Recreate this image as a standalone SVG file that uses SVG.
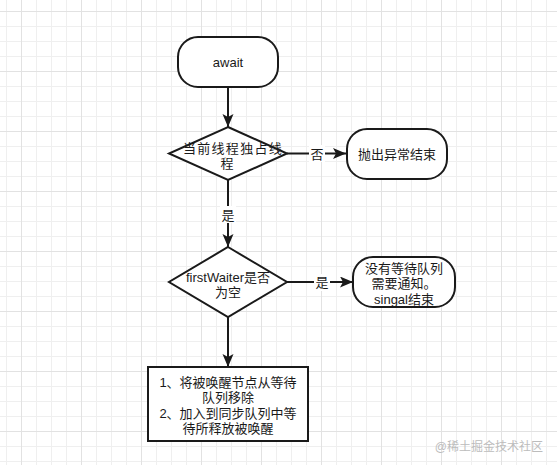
<svg xmlns="http://www.w3.org/2000/svg" width="557" height="465" viewBox="0 0 557 465">
<defs>
<pattern id="grid" patternUnits="userSpaceOnUse" x="21" y="11" width="60" height="60">
<rect x="15" y="0" width="1" height="60" fill="#efefef"/>
<rect x="30" y="0" width="1" height="60" fill="#efefef"/>
<rect x="45" y="0" width="1" height="60" fill="#efefef"/>
<rect x="0" y="15" width="60" height="1" fill="#efefef"/>
<rect x="0" y="30" width="60" height="1" fill="#efefef"/>
<rect x="0" y="45" width="60" height="1" fill="#efefef"/>
<rect x="0" y="0" width="1" height="60" fill="#e2e2e2"/>
<rect x="0" y="0" width="60" height="1" fill="#e2e2e2"/>
</pattern>
<marker id="arrow" markerUnits="userSpaceOnUse" markerWidth="14" markerHeight="12" refX="13" refY="5.5" orient="auto">
<path d="M0,0 L13,5.5 L0,11 L3,5.5 Z" fill="#1a1a1a"/>
</marker>
</defs>
<style>
.shape{fill:#ffffff;stroke:#1a1a1a;stroke-width:2}
.edge{fill:none;stroke:#1a1a1a;stroke-width:2}
.t{font-family:"Liberation Sans","Noto Sans CJK SC",sans-serif;font-size:13px;fill:#1a1a1a;text-anchor:middle}
.wide{letter-spacing:1.3px}
.lbl{fill:#ffffff}
.wm{font-family:"Liberation Sans","Noto Sans CJK SC",sans-serif;font-size:12px;fill:#bcbcbc;text-anchor:end}
</style>
<rect x="0" y="0" width="557" height="465" fill="#ffffff"/>
<rect x="0" y="0" width="557" height="465" fill="url(#grid)"/>

<g id="connectors">
<line class="edge" x1="228" y1="87" x2="228" y2="127" marker-end="url(#arrow)"/>
<line class="edge" x1="287" y1="153.5" x2="346" y2="153.5" marker-end="url(#arrow)"/>
<rect class="lbl" x="309" y="145" width="16" height="17"/>
<text class="t" x="317" y="158.5">否</text>
<line class="edge" x1="228" y1="180" x2="228" y2="247" marker-end="url(#arrow)"/>
<rect class="lbl" x="220" y="206" width="16" height="17"/>
<text class="t" x="228" y="220">是</text>
<line class="edge" x1="287" y1="282" x2="353" y2="282" marker-end="url(#arrow)"/>
<rect class="lbl" x="314" y="274" width="16" height="17"/>
<text class="t" x="322" y="287">是</text>
<line class="edge" x1="228" y1="317" x2="228" y2="367" marker-end="url(#arrow)"/>
</g>

<g id="node-await">
<rect class="shape" x="178" y="37" width="100" height="50" rx="20" ry="20"/>
<text class="t" x="228" y="66.5">await</text>
</g>

<g id="node-check-thread">
<polygon class="shape" points="228,127 287,153.5 228,180 169,153.5"/>
<text class="t wide" x="233" y="152.5">当前线程独占线</text>
<text class="t" x="227" y="168">程</text>
</g>

<g id="node-throw">
<rect class="shape" x="347" y="129" width="100" height="50" rx="20" ry="20"/>
<text class="t" x="397" y="158.5">抛出异常结束</text>
</g>

<g id="node-check-waiter">
<polygon class="shape" points="228,247 287,282 228,317 169,282"/>
<text class="t" x="228" y="281.5">firstWaiter是否</text>
<text class="t" x="228" y="297">为空</text>
</g>

<g id="node-no-wait">
<rect class="shape" x="353" y="257" width="102" height="50" rx="20" ry="20"/>
<text class="t" x="404" y="272.5">没有等待队列</text>
<text class="t" x="404" y="288">需要通知。</text>
<text class="t" x="404" y="303.5">singal结束</text>
</g>

<g id="node-move">
<rect class="shape" x="148" y="367" width="160" height="74"/>
<text class="t" x="228" y="386.5">1、将被唤醒节点从等待</text>
<text class="t" x="228" y="402">队列移除</text>
<text class="t" x="228" y="417.5">2、加入到同步队列中等</text>
<text class="t" x="228" y="433">待所释放被唤醒</text>
</g>

<text class="wm" x="543" y="451">@稀土掘金技术社区</text>
</svg>
